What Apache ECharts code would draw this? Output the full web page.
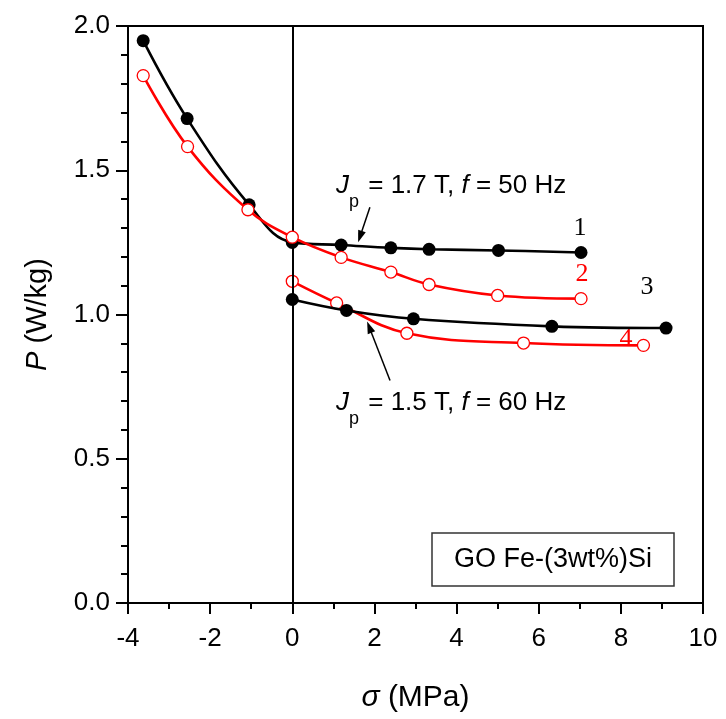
<!DOCTYPE html>
<html><head><meta charset="utf-8">
<script src="https://cdn.jsdelivr.net/npm/echarts@6/dist/echarts.min.js"></script>
<style>html,body{margin:0;padding:0;background:#fff}#c{width:726px;height:719px}</style>
</head><body><div id="c"></div>
<script>
// ---- data ----
const s1x = [-3.63, -2.56, -1.05, 0, 1.19, 2.40, 3.33, 5.02, 7.03];
const s1y = [1.949, 1.679, 1.380, 1.250, 1.241, 1.231, 1.226, 1.222, 1.215];
const s2x = [-3.63, -2.55, -1.08, 0, 1.19, 2.40, 3.33, 5.00, 7.03];
const s2y = [1.828, 1.582, 1.363, 1.268, 1.198, 1.147, 1.104, 1.066, 1.055];
const s3x = [0, 1.32, 2.95, 6.32, 9.10];
const s3y = [1.052, 1.014, 0.985, 0.959, 0.953];
const s4x = [0, 1.08, 2.79, 5.63, 8.55];
const s4y = [1.115, 1.040, 0.935, 0.901, 0.893];
const xTickMin = -4, xTickMax = 10, xTickStep = 2;
const yTickMin = 0, yTickMax = 2, yTickStep = 0.5;
const arrow1 = [[1.89, 1.372], [1.65, 1.270]];
const arrow2 = [[2.38, 0.771], [1.875, 0.956]];
const curveLabels = ['1', '2', '3', '4'];
const boxText = 'GO Fe-(3wt%)Si';

const zip = (xs, ys) => xs.map((x, i) => [x, ys[i]]);
const SANS = 'Liberation Sans';
const SERIF = 'Liberation Serif';
const RED = '#ff0000';

const chart = echarts.init(document.getElementById('c'), null, {renderer: 'canvas'});

const mctx = document.createElement('canvas').getContext('2d');
function measure(t, size, italic, family) {
  mctx.font = (italic ? 'italic ' : '') + size + 'px "' + (family || SANS) + '"';
  return mctx.measureText(t).width;
}
function textLine(x, y, parts) {
  const children = [];
  let cx = x;
  parts.forEach(p => {
    const size = p.size || 26;
    children.push({
      type: 'text', x: cx, y: y + (p.dy || 0),
      style: {text: p.t, fill: '#000', fontSize: size, fontFamily: SANS,
              fontStyle: p.italic ? 'italic' : 'normal', verticalAlign: 'middle'}
    });
    cx += measure(p.t, size, p.italic) + (p.gap || 0);
  });
  return {type: 'group', children: children};
}

function lineSeries(name, xs, ys, color, filled, z) {
  return {
    name: name, type: 'line', data: zip(xs, ys), smooth: 0.4,
    symbol: 'circle', symbolSize: filled ? 13 : 12, z: z,
    lineStyle: {color: color, width: 2.6},
    itemStyle: filled ? {color: color} : {color: '#fff', borderColor: color, borderWidth: 1.3},
    emphasis: {disabled: true}, animation: false
  };
}

const option = {
  animation: false,
  grid: {left: 128, right: 23, top: 26, bottom: 116, show: true, borderColor: '#000', borderWidth: 2},
  xAxis: {
    type: 'value', min: xTickMin, max: xTickMax, interval: xTickStep,
    name: '{i|σ} (MPa)', nameLocation: 'middle', nameGap: 80,
    nameTextStyle: {fontSize: 30, fontFamily: SANS, color: '#000',
      rich: {i: {fontSize: 30, fontFamily: SANS, fontStyle: 'italic', color: '#000'}}},
    axisLine: {show: true, onZero: false, lineStyle: {color: '#000', width: 2}},
    axisTick: {show: true, inside: false, length: 11, lineStyle: {color: '#000', width: 2}},
    minorTick: {show: true, splitNumber: 2, length: 6, lineStyle: {color: '#000', width: 2}},
    axisLabel: {fontSize: 26, fontFamily: SANS, color: '#000', margin: 23},
    splitLine: {show: false}
  },
  yAxis: {
    type: 'value', min: yTickMin, max: yTickMax, interval: yTickStep,
    name: '{i|P} (W/kg)', nameLocation: 'middle', nameGap: 76, nameRotate: 90,
    nameTextStyle: {fontSize: 29, fontFamily: SANS, color: '#000',
      rich: {i: {fontSize: 29, fontFamily: SANS, fontStyle: 'italic', color: '#000'}}},
    axisLine: {show: true, onZero: false, lineStyle: {color: '#000', width: 2}},
    axisTick: {show: true, inside: false, length: 12, lineStyle: {color: '#000', width: 2}},
    minorTick: {show: true, splitNumber: 5, length: 7, lineStyle: {color: '#000', width: 2}},
    axisLabel: {fontSize: 26, fontFamily: SANS, color: '#000', margin: 18, formatter: v => v.toFixed(1)},
    splitLine: {show: false}
  },
  series: [
    lineSeries('c3', s3x, s3y, '#000', true, 3),
    lineSeries('c4', s4x, s4y, RED, false, 2),
    Object.assign(lineSeries('c1', s1x, s1y, '#000', true, 4), {
      markLine: {silent: true, symbol: 'none', label: {show: false},
        lineStyle: {color: '#000', width: 2, type: 'solid'},
        data: [{xAxis: 0}]}
    }),
    Object.assign(lineSeries('c2', s2x, s2y, RED, false, 5), {
      markLine: {silent: true, label: {show: false}, symbol: ['none', 'triangle'], symbolSize: [8, 12],
        lineStyle: {color: '#000', width: 1.5, type: 'solid'},
        data: [
          [{coord: arrow1[0]}, {coord: arrow1[1]}],
          [{coord: arrow2[0]}, {coord: arrow2[1]}]
        ]}
    })
  ]
};
chart.setOption(option);

const graphics = [
  textLine(336, 186, [{t: 'J', italic: true}, {t: 'p', size: 18, dy: 16, gap: 2}, {t: ' = 1.7 T, '}, {t: 'f', italic: true}, {t: ' = 50 Hz'}]),
  textLine(336, 403, [{t: 'J', italic: true}, {t: 'p', size: 18, dy: 16, gap: 2}, {t: ' = 1.5 T, '}, {t: 'f', italic: true}, {t: ' = 60 Hz'}]),
  {type: 'text', x: 580, y: 228, style: {text: curveLabels[0], fill: '#000', fontSize: 26, fontFamily: SERIF, align: 'center', verticalAlign: 'middle'}},
  {type: 'text', x: 582, y: 274, style: {text: curveLabels[1], fill: RED, fontSize: 26, fontFamily: SERIF, align: 'center', verticalAlign: 'middle'}},
  {type: 'text', x: 647, y: 287, style: {text: curveLabels[2], fill: '#000', fontSize: 26, fontFamily: SERIF, align: 'center', verticalAlign: 'middle'}},
  {type: 'text', x: 626, y: 339, style: {text: curveLabels[3], fill: RED, fontSize: 26, fontFamily: SERIF, align: 'center', verticalAlign: 'middle'}},
  {type: 'rect', shape: {x: 432, y: 533, width: 242, height: 53}, style: {fill: '#fff', stroke: '#333', lineWidth: 1.5}, z: 10},
  {type: 'text', x: 553, y: 560, z: 11, style: {text: boxText, fill: '#000', fontSize: 27, fontFamily: SANS, align: 'center', verticalAlign: 'middle'}}
];
chart.setOption({graphic: graphics});
</script>
</body></html>
